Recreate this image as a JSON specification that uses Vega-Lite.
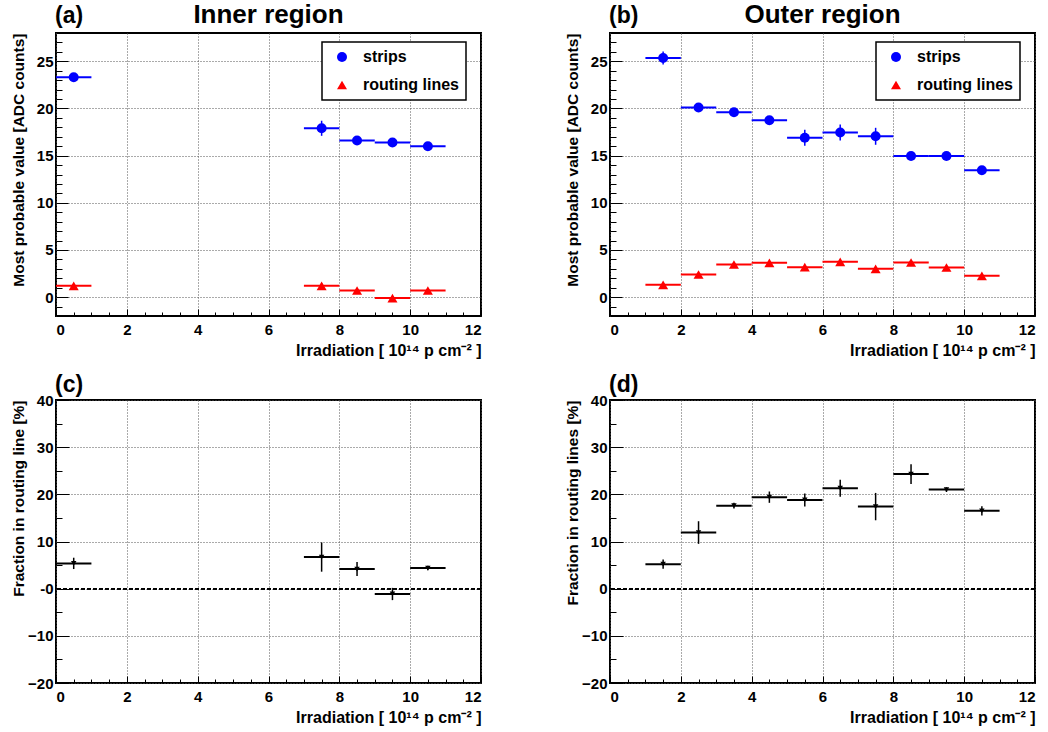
{
  "$schema": "https://vega.github.io/schema/vega-lite/v6.json",
  "background": "white",
  "padding": {"left": 9, "top": 1, "right": 5, "bottom": 5},
  "bounds": "flush",
  "columns": 2,
  "spacing": {"row": 84, "column": 129},
  "resolve": {"scale": {"color": "independent", "shape": "independent"}, "legend": {"color": "independent", "shape": "independent"}},
  "config": {
    "font": "Liberation Sans",
    "view": {"stroke": "black", "strokeWidth": 2},
    "axis": {
      "labelFont": "Liberation Sans", "labelFontWeight": "bold", "labelFontSize": 15, "labelColor": "black",
      "titleFont": "Liberation Sans", "titleFontWeight": "bold", "titleFontSize": 16, "titleColor": "black",
      "domain": false, "tickColor": "black", "tickWidth": 1,
      "gridColor": "#555555", "gridDash": [1, 2], "gridWidth": 1
    },
    "legend": {
      "title": null, "orient": "none", "legendX": 266, "legendY": 9, "padding": 7,
      "strokeColor": "black", "strokeWidth": 1.5, "fillColor": "white", "labelFontSize": 16, "labelFontWeight": "bold",
      "labelColor": "black", "labelFont": "Liberation Sans", "symbolSize": 100, "rowPadding": 12,
      "symbolOffset": 5, "labelOffset": 13, "symbolStrokeWidth": 0
    }
  },
  "datasets": {
    "inner": [
      {"series": "strips", "x": 0.5, "xlo": 0, "xhi": 1, "v": 23.3, "lo": 23.1, "hi": 23.5},
      {"series": "strips", "x": 7.5, "xlo": 7, "xhi": 8, "v": 17.9, "lo": 17.1, "hi": 18.7},
      {"series": "strips", "x": 8.5, "xlo": 8, "xhi": 9, "v": 16.6, "lo": 16.4, "hi": 16.8},
      {"series": "strips", "x": 9.5, "xlo": 9, "xhi": 10, "v": 16.4, "lo": 16.2, "hi": 16.6},
      {"series": "strips", "x": 10.5, "xlo": 10, "xhi": 11, "v": 16.0, "lo": 15.8, "hi": 16.2},
      {"series": "routing lines", "x": 0.5, "xlo": 0, "xhi": 1, "v": 1.2, "lo": 1.0, "hi": 1.4},
      {"series": "routing lines", "x": 7.5, "xlo": 7, "xhi": 8, "v": 1.2, "lo": 0.9, "hi": 1.5},
      {"series": "routing lines", "x": 8.5, "xlo": 8, "xhi": 9, "v": 0.7, "lo": 0.5, "hi": 0.9},
      {"series": "routing lines", "x": 9.5, "xlo": 9, "xhi": 10, "v": -0.1, "lo": -0.3, "hi": 0.1},
      {"series": "routing lines", "x": 10.5, "xlo": 10, "xhi": 11, "v": 0.7, "lo": 0.5, "hi": 0.9}
    ],
    "outer": [
      {"series": "strips", "x": 1.5, "xlo": 1, "xhi": 2, "v": 25.35, "lo": 24.65, "hi": 26.05},
      {"series": "strips", "x": 2.5, "xlo": 2, "xhi": 3, "v": 20.1, "lo": 19.85, "hi": 20.35},
      {"series": "strips", "x": 3.5, "xlo": 3, "xhi": 4, "v": 19.6, "lo": 19.35, "hi": 19.85},
      {"series": "strips", "x": 4.5, "xlo": 4, "xhi": 5, "v": 18.75, "lo": 18.5, "hi": 19.0},
      {"series": "strips", "x": 5.5, "xlo": 5, "xhi": 6, "v": 16.9, "lo": 16.05, "hi": 17.75},
      {"series": "strips", "x": 6.5, "xlo": 6, "xhi": 7, "v": 17.45, "lo": 16.6, "hi": 18.3},
      {"series": "strips", "x": 7.5, "xlo": 7, "xhi": 8, "v": 17.05, "lo": 16.15, "hi": 17.95},
      {"series": "strips", "x": 8.5, "xlo": 8, "xhi": 9, "v": 14.97, "lo": 14.77, "hi": 15.17},
      {"series": "strips", "x": 9.5, "xlo": 9, "xhi": 10, "v": 14.97, "lo": 14.77, "hi": 15.17},
      {"series": "strips", "x": 10.5, "xlo": 10, "xhi": 11, "v": 13.45, "lo": 13.25, "hi": 13.65},
      {"series": "routing lines", "x": 1.5, "xlo": 1, "xhi": 2, "v": 1.3, "lo": 1.1, "hi": 1.5},
      {"series": "routing lines", "x": 2.5, "xlo": 2, "xhi": 3, "v": 2.4, "lo": 2.2, "hi": 2.6},
      {"series": "routing lines", "x": 3.5, "xlo": 3, "xhi": 4, "v": 3.46, "lo": 3.26, "hi": 3.66},
      {"series": "routing lines", "x": 4.5, "xlo": 4, "xhi": 5, "v": 3.64, "lo": 3.44, "hi": 3.84},
      {"series": "routing lines", "x": 5.5, "xlo": 5, "xhi": 6, "v": 3.18, "lo": 2.98, "hi": 3.38},
      {"series": "routing lines", "x": 6.5, "xlo": 6, "xhi": 7, "v": 3.74, "lo": 3.49, "hi": 3.99},
      {"series": "routing lines", "x": 7.5, "xlo": 7, "xhi": 8, "v": 3.0, "lo": 2.8, "hi": 3.2},
      {"series": "routing lines", "x": 8.5, "xlo": 8, "xhi": 9, "v": 3.67, "lo": 3.42, "hi": 3.92},
      {"series": "routing lines", "x": 9.5, "xlo": 9, "xhi": 10, "v": 3.14, "lo": 2.94, "hi": 3.34},
      {"series": "routing lines", "x": 10.5, "xlo": 10, "xhi": 11, "v": 2.26, "lo": 2.06, "hi": 2.46}
    ],
    "fracInner": [
      {"x": 0.5, "xlo": 0, "xhi": 1, "v": 5.36, "lo": 4.16, "hi": 6.56},
      {"x": 7.5, "xlo": 7, "xhi": 8, "v": 6.7, "lo": 3.6, "hi": 9.8},
      {"x": 8.5, "xlo": 8, "xhi": 9, "v": 4.16, "lo": 2.66, "hi": 5.66},
      {"x": 9.5, "xlo": 9, "xhi": 10, "v": -1.13, "lo": -2.43, "hi": 0.17},
      {"x": 10.5, "xlo": 10, "xhi": 11, "v": 4.38, "lo": 3.88, "hi": 4.88}
    ],
    "fracOuter": [
      {"x": 1.5, "xlo": 1, "xhi": 2, "v": 5.2, "lo": 4.2, "hi": 6.2},
      {"x": 2.5, "xlo": 2, "xhi": 3, "v": 11.9, "lo": 9.5, "hi": 14.3},
      {"x": 3.5, "xlo": 3, "xhi": 4, "v": 17.6, "lo": 17.0, "hi": 18.2},
      {"x": 4.5, "xlo": 4, "xhi": 5, "v": 19.4, "lo": 18.2, "hi": 20.6},
      {"x": 5.5, "xlo": 5, "xhi": 6, "v": 18.8, "lo": 17.4, "hi": 20.2},
      {"x": 6.5, "xlo": 6, "xhi": 7, "v": 21.3, "lo": 19.5, "hi": 23.1},
      {"x": 7.5, "xlo": 7, "xhi": 8, "v": 17.4, "lo": 14.5, "hi": 20.3},
      {"x": 8.5, "xlo": 8, "xhi": 9, "v": 24.3, "lo": 22.2, "hi": 26.4},
      {"x": 9.5, "xlo": 9, "xhi": 10, "v": 21.0, "lo": 20.5, "hi": 21.5},
      {"x": 10.5, "xlo": 10, "xhi": 11, "v": 16.5, "lo": 15.5, "hi": 17.5}
    ]
  },
  "concat": [
    {
      "width": 425, "height": 283,
      "data": {"name": "inner"},
      "resolve": {"axis": {"x": "independent", "y": "independent"}},
      "layer": [
        {
          "transform": [{"filter": "datum.series === 'strips'"}],
          "mark": {"type": "rule", "strokeWidth": 2, "color": "#0000ff"},
          "encoding": {
            "x": {"field": "xlo", "type": "quantitative", "scale": {"domain": [0, 12], "nice": false, "zero": false},
                  "axis": {"orient": "bottom", "values": [0, 2, 4, 6, 8, 10, 12], "grid": true, "tickSize": -7, "labelPadding": 13, "title": "Irradiation [ 10¹⁴ p cm⁻² ]", "titleAnchor": "end", "titleBaseline": "alphabetic", "titleY": 39}},
            "x2": {"field": "xhi"},
            "y": {"field": "v", "type": "quantitative", "scale": {"domain": [-2, 28], "nice": false, "zero": false},
                  "axis": {"orient": "left", "values": [0, 5, 10, 15, 20, 25], "grid": true, "tickSize": -12, "labelPadding": 15, "title": "Most probable value [ADC counts]", "titleFontSize": 15.5, "titleAnchor": "end", "titleBaseline": "alphabetic", "titleX": -33}}
          }
        },
        {
          "transform": [{"filter": "datum.series === 'routing lines'"}],
          "mark": {"type": "rule", "strokeWidth": 2, "color": "#ff0000"},
          "encoding": {
            "x": {"field": "xlo", "type": "quantitative", "axis": null},
            "x2": {"field": "xhi"},
            "y": {"field": "v", "type": "quantitative", "axis": null}
          }
        },
        {
          "transform": [{"filter": "datum.series === 'strips'"}],
          "mark": {"type": "rule", "strokeWidth": 1.5, "color": "#0000ff"},
          "encoding": {
            "x": {"field": "x", "type": "quantitative", "axis": {"orient": "bottom", "values": [0.5, 1, 1.5, 2.5, 3, 3.5, 4.5, 5, 5.5, 6.5, 7, 7.5, 8.5, 9, 9.5, 10.5, 11, 11.5], "labels": false, "grid": false, "tickSize": -4, "title": null}},
            "y": {"field": "lo", "type": "quantitative", "axis": {"orient": "left", "values": [-1, 1, 2, 3, 4, 6, 7, 8, 9, 11, 12, 13, 14, 16, 17, 18, 19, 21, 22, 23, 24, 26, 27], "labels": false, "grid": false, "tickSize": -6, "title": null}},
            "y2": {"field": "hi"}
          }
        },
        {
          "transform": [{"filter": "datum.series === 'routing lines'"}],
          "mark": {"type": "rule", "strokeWidth": 1.5, "color": "#ff0000"},
          "encoding": {
            "x": {"field": "x", "type": "quantitative", "axis": null},
            "y": {"field": "lo", "type": "quantitative", "axis": null},
            "y2": {"field": "hi"}
          }
        },
        {
          "mark": {"type": "point", "filled": true, "size": 100, "opacity": 1},
          "encoding": {
            "x": {"field": "x", "type": "quantitative", "axis": null},
            "y": {"field": "v", "type": "quantitative", "axis": null},
            "color": {"field": "series", "type": "nominal", "scale": {"domain": ["strips", "routing lines"], "range": ["#0000ff", "#ff0000"]}},
            "shape": {"field": "series", "type": "nominal", "scale": {"domain": ["strips", "routing lines"], "range": ["circle", "triangle-up"]}}
          }
        },
        {
          "data": {"values": [{"label": "(a)"}]},
          "mark": {"type": "text", "fontSize": 23, "fontWeight": "bold", "align": "left", "baseline": "alphabetic", "dy": -10, "dx": -1, "color": "black"},
          "encoding": {
            "x": {"datum": 0, "type": "quantitative", "axis": null},
            "y": {"datum": 28, "type": "quantitative", "axis": null},
            "text": {"field": "label"}
          }
        },
        {
          "data": {"values": [{"label": "Inner region"}]},
          "mark": {"type": "text", "fontSize": 26, "fontWeight": "bold", "align": "center", "baseline": "alphabetic", "dy": -10, "color": "black"},
          "encoding": {
            "x": {"datum": 6, "type": "quantitative", "axis": null},
            "y": {"datum": 28, "type": "quantitative", "axis": null},
            "text": {"field": "label"}
          }
        }
      ]
    },
    {
      "width": 425, "height": 283,
      "data": {"name": "outer"},
      "resolve": {"axis": {"x": "independent", "y": "independent"}},
      "layer": [
        {
          "transform": [{"filter": "datum.series === 'strips'"}],
          "mark": {"type": "rule", "strokeWidth": 2, "color": "#0000ff"},
          "encoding": {
            "x": {"field": "xlo", "type": "quantitative", "scale": {"domain": [0, 12], "nice": false, "zero": false},
                  "axis": {"orient": "bottom", "values": [0, 2, 4, 6, 8, 10, 12], "grid": true, "tickSize": -7, "labelPadding": 13, "title": "Irradiation [ 10¹⁴ p cm⁻² ]", "titleAnchor": "end", "titleBaseline": "alphabetic", "titleY": 39}},
            "x2": {"field": "xhi"},
            "y": {"field": "v", "type": "quantitative", "scale": {"domain": [-2, 28], "nice": false, "zero": false},
                  "axis": {"orient": "left", "values": [0, 5, 10, 15, 20, 25], "grid": true, "tickSize": -12, "labelPadding": 15, "title": "Most probable value [ADC counts]", "titleFontSize": 15.5, "titleAnchor": "end", "titleBaseline": "alphabetic", "titleX": -33}}
          }
        },
        {
          "transform": [{"filter": "datum.series === 'routing lines'"}],
          "mark": {"type": "rule", "strokeWidth": 2, "color": "#ff0000"},
          "encoding": {
            "x": {"field": "xlo", "type": "quantitative", "axis": null},
            "x2": {"field": "xhi"},
            "y": {"field": "v", "type": "quantitative", "axis": null}
          }
        },
        {
          "transform": [{"filter": "datum.series === 'strips'"}],
          "mark": {"type": "rule", "strokeWidth": 1.5, "color": "#0000ff"},
          "encoding": {
            "x": {"field": "x", "type": "quantitative", "axis": {"orient": "bottom", "values": [0.5, 1, 1.5, 2.5, 3, 3.5, 4.5, 5, 5.5, 6.5, 7, 7.5, 8.5, 9, 9.5, 10.5, 11, 11.5], "labels": false, "grid": false, "tickSize": -4, "title": null}},
            "y": {"field": "lo", "type": "quantitative", "axis": {"orient": "left", "values": [-1, 1, 2, 3, 4, 6, 7, 8, 9, 11, 12, 13, 14, 16, 17, 18, 19, 21, 22, 23, 24, 26, 27], "labels": false, "grid": false, "tickSize": -6, "title": null}},
            "y2": {"field": "hi"}
          }
        },
        {
          "transform": [{"filter": "datum.series === 'routing lines'"}],
          "mark": {"type": "rule", "strokeWidth": 1.5, "color": "#ff0000"},
          "encoding": {
            "x": {"field": "x", "type": "quantitative", "axis": null},
            "y": {"field": "lo", "type": "quantitative", "axis": null},
            "y2": {"field": "hi"}
          }
        },
        {
          "mark": {"type": "point", "filled": true, "size": 100, "opacity": 1},
          "encoding": {
            "x": {"field": "x", "type": "quantitative", "axis": null},
            "y": {"field": "v", "type": "quantitative", "axis": null},
            "color": {"field": "series", "type": "nominal", "scale": {"domain": ["strips", "routing lines"], "range": ["#0000ff", "#ff0000"]}},
            "shape": {"field": "series", "type": "nominal", "scale": {"domain": ["strips", "routing lines"], "range": ["circle", "triangle-up"]}}
          }
        },
        {
          "data": {"values": [{"label": "(b)"}]},
          "mark": {"type": "text", "fontSize": 23, "fontWeight": "bold", "align": "left", "baseline": "alphabetic", "dy": -10, "dx": -1, "color": "black"},
          "encoding": {
            "x": {"datum": 0, "type": "quantitative", "axis": null},
            "y": {"datum": 28, "type": "quantitative", "axis": null},
            "text": {"field": "label"}
          }
        },
        {
          "data": {"values": [{"label": "Outer region"}]},
          "mark": {"type": "text", "fontSize": 26, "fontWeight": "bold", "align": "center", "baseline": "alphabetic", "dy": -10, "color": "black"},
          "encoding": {
            "x": {"datum": 6, "type": "quantitative", "axis": null},
            "y": {"datum": 28, "type": "quantitative", "axis": null},
            "text": {"field": "label"}
          }
        }
      ]
    },
    {
      "width": 425, "height": 283,
      "data": {"name": "fracInner"},
      "resolve": {"axis": {"x": "independent", "y": "independent"}},
      "layer": [
        {
          "mark": {"type": "rule", "strokeWidth": 2, "color": "black"},
          "encoding": {
            "x": {"field": "xlo", "type": "quantitative", "scale": {"domain": [0, 12], "nice": false, "zero": false},
                  "axis": {"orient": "bottom", "values": [0, 2, 4, 6, 8, 10, 12], "grid": true, "tickSize": -7, "labelPadding": 13, "title": "Irradiation [ 10¹⁴ p cm⁻² ]", "titleAnchor": "end", "titleBaseline": "alphabetic", "titleY": 39}},
            "x2": {"field": "xhi"},
            "y": {"field": "v", "type": "quantitative", "scale": {"domain": [-20, 40], "nice": false, "zero": false},
                  "axis": {"orient": "left", "values": [-20, -10, 0, 10, 20, 30, 40], "labelExpr": "datum.value === 0 ? '-0' : datum.label", "grid": true, "tickSize": -13, "labelPadding": 16, "title": "Fraction in routing line [%]", "titleFontSize": 15.5, "titleAnchor": "end", "titleBaseline": "alphabetic", "titleX": -33}}
          }
        },
        {
          "mark": {"type": "rule", "strokeWidth": 1.5, "color": "black"},
          "encoding": {
            "x": {"field": "x", "type": "quantitative", "axis": {"orient": "bottom", "values": [0.5, 1, 1.5, 2.5, 3, 3.5, 4.5, 5, 5.5, 6.5, 7, 7.5, 8.5, 9, 9.5, 10.5, 11, 11.5], "labels": false, "grid": false, "tickSize": -4, "title": null}},
            "y": {"field": "lo", "type": "quantitative", "axis": {"orient": "left", "values": [-15, -5, 5, 15, 25, 35], "labels": false, "grid": false, "tickSize": -6, "title": null}},
            "y2": {"field": "hi"}
          }
        },
        {
          "mark": {"type": "rule", "strokeWidth": 1.5, "color": "black", "strokeDash": [4, 2]},
          "encoding": {"y": {"datum": 0, "type": "quantitative", "axis": null}}
        },
        {
          "mark": {"type": "point", "filled": true, "size": 30, "opacity": 1, "shape": "triangle-down", "color": "black"},
          "encoding": {
            "x": {"field": "x", "type": "quantitative", "axis": null},
            "y": {"field": "v", "type": "quantitative", "axis": null}
          }
        },
        {
          "data": {"values": [{"label": "(c)"}]},
          "mark": {"type": "text", "fontSize": 23, "fontWeight": "bold", "align": "left", "baseline": "alphabetic", "dy": -8, "dx": -1, "color": "black"},
          "encoding": {
            "x": {"datum": 0, "type": "quantitative", "axis": null},
            "y": {"datum": 40, "type": "quantitative", "axis": null},
            "text": {"field": "label"}
          }
        }
      ]
    },
    {
      "width": 425, "height": 283,
      "data": {"name": "fracOuter"},
      "resolve": {"axis": {"x": "independent", "y": "independent"}},
      "layer": [
        {
          "mark": {"type": "rule", "strokeWidth": 2, "color": "black"},
          "encoding": {
            "x": {"field": "xlo", "type": "quantitative", "scale": {"domain": [0, 12], "nice": false, "zero": false},
                  "axis": {"orient": "bottom", "values": [0, 2, 4, 6, 8, 10, 12], "grid": true, "tickSize": -7, "labelPadding": 13, "title": "Irradiation [ 10¹⁴ p cm⁻² ]", "titleAnchor": "end", "titleBaseline": "alphabetic", "titleY": 39}},
            "x2": {"field": "xhi"},
            "y": {"field": "v", "type": "quantitative", "scale": {"domain": [-20, 40], "nice": false, "zero": false},
                  "axis": {"orient": "left", "values": [-20, -10, 0, 10, 20, 30, 40], "grid": true, "tickSize": -13, "labelPadding": 16, "title": "Fraction in routing lines [%]", "titleFontSize": 15.5, "titleAnchor": "end", "titleBaseline": "alphabetic", "titleX": -33}}
          }
        },
        {
          "mark": {"type": "rule", "strokeWidth": 1.5, "color": "black"},
          "encoding": {
            "x": {"field": "x", "type": "quantitative", "axis": {"orient": "bottom", "values": [0.5, 1, 1.5, 2.5, 3, 3.5, 4.5, 5, 5.5, 6.5, 7, 7.5, 8.5, 9, 9.5, 10.5, 11, 11.5], "labels": false, "grid": false, "tickSize": -4, "title": null}},
            "y": {"field": "lo", "type": "quantitative", "axis": {"orient": "left", "values": [-15, -5, 5, 15, 25, 35], "labels": false, "grid": false, "tickSize": -6, "title": null}},
            "y2": {"field": "hi"}
          }
        },
        {
          "mark": {"type": "rule", "strokeWidth": 1.5, "color": "black", "strokeDash": [4, 2]},
          "encoding": {"y": {"datum": 0, "type": "quantitative", "axis": null}}
        },
        {
          "mark": {"type": "point", "filled": true, "size": 30, "opacity": 1, "shape": "triangle-down", "color": "black"},
          "encoding": {
            "x": {"field": "x", "type": "quantitative", "axis": null},
            "y": {"field": "v", "type": "quantitative", "axis": null}
          }
        },
        {
          "data": {"values": [{"label": "(d)"}]},
          "mark": {"type": "text", "fontSize": 23, "fontWeight": "bold", "align": "left", "baseline": "alphabetic", "dy": -8, "dx": -1, "color": "black"},
          "encoding": {
            "x": {"datum": 0, "type": "quantitative", "axis": null},
            "y": {"datum": 40, "type": "quantitative", "axis": null},
            "text": {"field": "label"}
          }
        }
      ]
    }
  ]
}
